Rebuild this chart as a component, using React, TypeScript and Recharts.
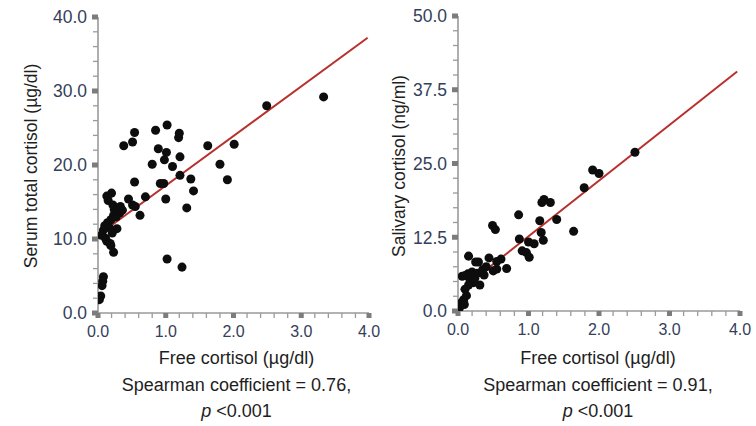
import React from "react";
import { ScatterChart, Scatter, XAxis, YAxis, ZAxis, ReferenceLine } from "recharts";

// ---------- Data ----------
// Left panel: free cortisol (µg/dl) vs serum total cortisol (µg/dl)
const serumFree = [3.33, 2.49, 2.01, 1.62, 1.8, 1.91, 1.41, 1.37, 1.31, 1.21, 1.21, 1.19, 1.2, 1.02, 1.01, 0.98, 1.1, 0.89, 0.85, 0.8, 0.92, 0.97, 1.0, 1.02, 1.24, 0.54, 0.51, 0.38, 0.54, 0.7, 0.62, 0.45, 0.51, 0.55, 0.28, 0.23, 0.2, 0.13, 0.15, 0.22, 0.24, 0.33, 0.36, 0.32, 0.23, 0.19, 0.14, 0.08, 0.05, 0.11, 0.13, 0.19, 0.21, 0.18, 0.08, 0.07, 0.06, 0.04, 0.02, 0.1, 0.27, 0.17];
const serumTotal = [29.2, 28.0, 22.8, 22.6, 20.1, 18.0, 16.5, 18.1, 14.2, 18.6, 21.1, 23.7, 24.3, 25.4, 21.7, 20.7, 19.8, 22.2, 24.7, 20.1, 17.5, 17.5, 15.4, 7.3, 6.2, 24.4, 23.1, 22.6, 17.7, 15.7, 13.2, 15.4, 14.6, 14.4, 11.4, 8.2, 16.2, 15.8, 15.2, 14.6, 14.0, 14.4, 13.9, 13.5, 13.2, 12.6, 12.2, 11.2, 10.5, 10.1, 9.7, 9.1, 10.8, 9.4, 4.9, 4.3, 3.7, 2.3, 1.8, 11.8, 13.0, 11.5];
const serumFitX = [0.0, 3.98];
const serumFitY = [10.5, 37.2];

// Right panel: free cortisol (µg/dl) vs salivary cortisol (ng/ml)
const salivaFree = [2.51, 1.91, 2.0, 1.79, 1.22, 1.19, 1.31, 1.4, 1.16, 1.18, 1.21, 1.64, 0.86, 0.87, 1.0, 1.08, 0.91, 0.97, 1.01, 0.49, 0.53, 0.69, 0.61, 0.55, 0.44, 0.5, 0.55, 0.29, 0.25, 0.37, 0.31, 0.15, 0.06, 0.14, 0.2, 0.27, 0.17, 0.22, 0.15, 0.1, 0.12, 0.08, 0.05, 0.03, 0.09, 0.02, 0.35, 0.4, 0.1, 0.24];
const salivaCortisol = [26.9, 23.9, 23.3, 20.9, 18.9, 18.4, 18.4, 15.5, 15.3, 13.3, 12.0, 13.5, 16.3, 12.2, 11.7, 11.4, 10.2, 9.9, 9.1, 14.5, 13.8, 7.2, 8.8, 8.4, 9.0, 6.8, 7.1, 8.3, 8.3, 6.1, 4.4, 9.3, 5.9, 6.3, 6.6, 6.4, 5.3, 4.8, 4.4, 3.7, 2.6, 1.9, 1.4, 0.9, 1.1, 0.5, 7.0, 7.5, 6.0, 5.6];
const salivaFitX = [0.04, 3.96];
const salivaFitY = [3.6, 40.6];

// Ticks
const xTicks = [0, 0.2, 0.4, 0.6, 0.8, 1, 1.2, 1.4, 1.6, 1.8, 2, 2.2, 2.4, 2.6, 2.8, 3, 3.2, 3.4, 3.6, 3.8, 4];
const xMajor = [0, 1, 2, 3, 4];
const xLabels = ["0.0", "1.0", "2.0", "3.0", "4.0"];

const serumTicks = [0, 2, 4, 6, 8, 10, 12, 14, 16, 18, 20, 22, 24, 26, 28, 30, 32, 34, 36, 38, 40];
const serumMajor = [0, 10, 20, 30, 40];
const serumLabels = ["0.0", "10.0", "20.0", "30.0", "40.0"];

const salivaTicks = [0, 2.5, 5, 7.5, 10, 12.5, 15, 17.5, 20, 22.5, 25, 27.5, 30, 32.5, 35, 37.5, 40, 42.5, 45, 47.5, 50];
const salivaMajor = [0, 12.5, 25, 37.5, 50];
const salivaLabels = ["0.0", "12.5", "25.0", "37.5", "50.0"];

const xTitle = "Free cortisol (µg/dl)";
const serumTitle = "Serum total cortisol (µg/dl)";
const salivaTitle = "Salivary cortisol (ng/ml)";
const serumStat = "Spearman coefficient = 0.76,";
const salivaStat = "Spearman coefficient = 0.91,";
const pText = " <0.001";

// ---------- Styling ----------
const FONT = "'Liberation Sans', Arial, Helvetica, sans-serif";
const AXIS = "#9a9a9a";
const MAJOR = "#7c7c7c";
const TICKTEXT = "#34405a";
const TITLE = "#1e1e1e";
const FIT = "#b8302c";
const DOT = "#0d0d0d";

const zip = (xs: number[], ys: number[]) => xs.map((x, i) => ({ x, y: ys[i] }));

const makeXTick = (majors: number[], labels: string[]) => (props: any) => {
  const { x, y, payload } = props;
  const i = majors.indexOf(payload.value);
  if (i >= 0) {
    return (
      <g>
        <rect x={x - 2.5} y={y} width={5} height={5} fill={MAJOR} />
        <text x={x} y={y + 24} textAnchor="middle" fontSize={16} fontFamily={FONT} fill={TICKTEXT}>
          {labels[i]}
        </text>
      </g>
    );
  }
  return <line x1={x} x2={x} y1={y} y2={y + 5} stroke={AXIS} strokeWidth={1.3} />;
};

const makeYTick = (majors: number[], labels: string[]) => (props: any) => {
  const { x, y, payload } = props;
  const i = majors.indexOf(payload.value);
  if (i >= 0) {
    return (
      <g>
        <rect x={x - 6} y={y - 2.5} width={6} height={5} fill={MAJOR} />
        <text x={x - 11} y={y} dy="0.36em" textAnchor="end" fontSize={17.5} fontFamily={FONT} fill={TICKTEXT}>
          {labels[i]}
        </text>
      </g>
    );
  }
  return <line x1={x - 5} x2={x} y1={y} y2={y} stroke={AXIS} strokeWidth={1.3} />;
};

const makeXTitle = (stat: string, dx: number) => (p: any) => {
  const vb = p.viewBox || {};
  const cx = vb.x + vb.width / 2 + dx;
  return (
    <g fontFamily={FONT} fontSize={18} fill={TITLE} textAnchor="middle">
      <text x={cx} y={364}>{xTitle}</text>
      <text x={cx} y={391}>{stat}</text>
      <text x={cx} y={417}>
        <tspan fontStyle="italic">p</tspan>
        {pText}
      </text>
    </g>
  );
};

const makeYTitle = (title: string, offX: number) => (p: any) => {
  const vb = p.viewBox || {};
  const cx = vb.x + offX;
  const cy = 166;
  return (
    <text
      x={cx}
      y={cy}
      transform={`rotate(-90, ${cx}, ${cy})`}
      textAnchor="middle"
      dominantBaseline="central"
      fontFamily={FONT}
      fontSize={17.5}
      fill={TITLE}
    >
      {title}
    </text>
  );
};

type PanelProps = {
  left: number;
  width: number;
  top: number;
  right: number;
  yAxisWidth: number;
  xAxisHeight: number;
  yDomain: [number, number];
  yTicks: number[];
  yMajor: number[];
  yLabels: string[];
  data: { x: number; y: number }[];
  fit: { x: number; y: number }[];
  yTitle: string;
  yTitleX: number;
  stat: string;
  statDx: number;
};

function Panel(p: PanelProps) {
  return (
    <div style={{ position: "absolute", left: p.left, top: 0, width: p.width, height: 426 }}>
      <ScatterChart
        width={p.width}
        height={426}
        margin={{ top: p.top, right: p.right, bottom: 0, left: 0 }}
      >
        <XAxis
          type="number"
          dataKey="x"
          domain={[0, 4]}
          ticks={xTicks}
          interval={0}
          allowDataOverflow
          height={p.xAxisHeight}
          tickSize={0}
          tickMargin={0}
          tickLine={false}
          axisLine={{ stroke: AXIS, strokeWidth: 1.6 }}
          tick={makeXTick(xMajor, xLabels)}
          label={{ content: makeXTitle(p.stat, p.statDx) }}
        />
        <YAxis
          type="number"
          dataKey="y"
          domain={p.yDomain}
          ticks={p.yTicks}
          interval={0}
          allowDataOverflow
          width={p.yAxisWidth}
          tickSize={0}
          tickMargin={0}
          tickLine={false}
          axisLine={{ stroke: AXIS, strokeWidth: 1.6 }}
          tick={makeYTick(p.yMajor, p.yLabels)}
          label={{ content: makeYTitle(p.yTitle, p.yTitleX) }}
        />
        <ZAxis type="number" range={[60, 60]} />
        <Scatter data={p.data} fill={DOT} shape="circle" isAnimationActive={false} />
        <ReferenceLine
          segment={p.fit}
          stroke={FIT}
          strokeWidth={2}
          ifOverflow="visible"
        />
      </ScatterChart>
    </div>
  );
}

export default function App() {
  return (
    <div style={{ position: "absolute", left: 0, top: 0, width: 756, height: 426, background: "#fff" }}>
      <Panel
        left={0}
        width={380}
        top={17}
        right={11}
        yAxisWidth={98}
        xAxisHeight={113}
        yDomain={[0, 40]}
        yTicks={serumTicks}
        yMajor={serumMajor}
        yLabels={serumLabels}
        data={zip(serumFree, serumTotal)}
        fit={zip(serumFitX, serumFitY)}
        yTitle={serumTitle}
        yTitleX={31}
        stat={serumStat}
        statDx={3}
      />
      <Panel
        left={380}
        width={376}
        top={16}
        right={16}
        yAxisWidth={78}
        xAxisHeight={115}
        yDomain={[0, 50]}
        yTicks={salivaTicks}
        yMajor={salivaMajor}
        yLabels={salivaLabels}
        data={zip(salivaFree, salivaCortisol)}
        fit={zip(salivaFitX, salivaFitY)}
        yTitle={salivaTitle}
        yTitleX={19}
        stat={salivaStat}
        statDx={-1}
      />
    </div>
  );
}
